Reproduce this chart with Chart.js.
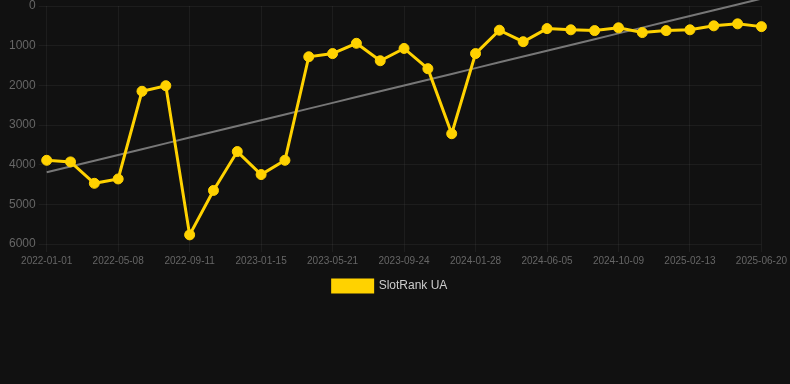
<!DOCTYPE html>
<html>
<head>
<meta charset="utf-8">
<script src="https://cdn.jsdelivr.net/npm/chart.js@4/dist/chart.umd.min.js"></script>
<style>
  html, body { margin: 0; padding: 0; background: #111111; }
  #wrap { position: relative; width: 790px; height: 302px; }
</style>
</head>
<body>
<div id="wrap"><canvas id="c"></canvas></div>
<script>
const categories = [
  '2022-01-01','2022-02-12','2022-03-26','2022-05-08','2022-06-19','2022-07-31',
  '2022-09-11','2022-10-23','2022-12-04','2023-01-15','2023-02-26','2023-04-09',
  '2023-05-21','2023-07-02','2023-08-13','2023-09-24','2023-11-05','2023-12-17',
  '2024-01-28','2024-03-10','2024-04-21','2024-06-05','2024-07-17','2024-08-28',
  '2024-10-09','2024-11-20','2025-01-01','2025-02-13','2025-03-27','2025-05-08',
  '2025-06-20'
];
const rankValues = [
  3890, 3930, 4470, 4360, 2150, 2010,
  5770, 4650, 3670, 4250, 3890, 1280,
  1200, 940, 1380, 1070, 1580, 3220,
  1200, 610, 900, 570, 600, 620,
  550, 670, 620, 600, 500, 450,
  520
];
const yTicks = [0, 1000, 2000, 3000, 4000, 5000, 6000];
const seriesName = 'SlotRank UA';

// linear regression trend from the series
const n = rankValues.length;
const mx = (n - 1) / 2;
const my = rankValues.reduce((a, b) => a + b, 0) / n;
let sxy = 0, sxx = 0;
rankValues.forEach((v, i) => { sxy += (i - mx) * (v - my); sxx += (i - mx) * (i - mx); });
const slope = sxy / sxx;
const trendValues = rankValues.map((v, i) => my + slope * (i - mx));

const gold = '#FFD200';
const FONT = 'Liberation Sans, Arial, sans-serif';

// shift legend slightly left to match the reference placement
const legendShift = {
  id: 'legendShift',
  afterLayout(chart) {
    if (chart.legend) { chart.legend.right -= 16; }
  }
};

new Chart(document.getElementById('c'), {
  type: 'line',
  data: {
    labels: categories,
    datasets: [
      {
        label: seriesName,
        data: rankValues,
        borderColor: gold,
        backgroundColor: gold,
        borderWidth: 3,
        pointRadius: 5,
        pointHoverRadius: 5,
        pointBackgroundColor: gold,
        pointBorderColor: gold,
        pointBorderWidth: 1,
        tension: 0
      },
      {
        label: 'trend',
        data: trendValues,
        borderColor: '#777777',
        backgroundColor: '#777777',
        borderWidth: 2,
        pointRadius: 0,
        tension: 0,
        clip: false
      }
    ]
  },
  plugins: [legendShift],
  options: {
    responsive: true,
    maintainAspectRatio: false,
    animation: false,
    layout: { padding: { left: 6, right: 0, top: 0, bottom: 0 } },
    plugins: {
      legend: {
        position: 'bottom',
        labels: {
          color: '#cccccc',
          boxWidth: 40,
          boxHeight: 12,
          font: { family: FONT, size: 12 },
          filter: (item) => item.datasetIndex === 0
        }
      },
      tooltip: { enabled: false }
    },
    scales: {
      x: {
        ticks: {
          color: '#666666',
          autoSkip: false,
          maxRotation: 0,
          font: { family: FONT, size: 10 },
          callback: function(value, index) {
            return index % 3 === 0 ? categories[index] : null;
          }
        },
        grid: { color: 'rgba(255,255,255,0.05)' },
        border: { display: false }
      },
      y: {
        reverse: true,
        min: yTicks[0],
        max: yTicks[yTicks.length - 1],
        afterBuildTicks: (axis) => { axis.ticks = yTicks.map(v => ({ value: v })); },
        ticks: {
          color: '#666666',
          font: { family: FONT, size: 12, lineHeight: 0.5 },
          callback: (v) => String(v)
        },
        grid: { color: 'rgba(255,255,255,0.05)' },
        border: { display: false }
      }
    }
  }
});
</script>
</body>
</html>
